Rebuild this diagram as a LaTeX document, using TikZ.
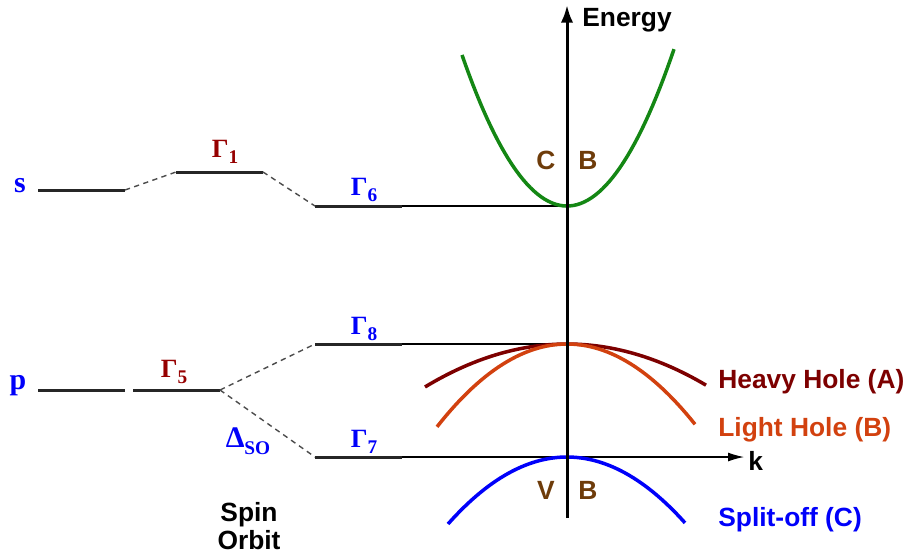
\documentclass[tikz,border=0pt]{standalone}
\usepackage{fontspec}
\setmainfont{Liberation Serif}
\setsansfont{Liberation Sans}
\usepackage{xcolor}
\usetikzlibrary{arrows.meta,positioning}

\definecolor{gdarkred}{RGB}{150,0,0}
\definecolor{hhred}{RGB}{125,0,0}
\definecolor{lhorange}{RGB}{210,65,15}
\definecolor{cbgreen}{RGB}{20,135,20}
\definecolor{cbbrown}{RGB}{110,60,10}
\definecolor{lblblue}{RGB}{0,0,250}

\newcommand{\glab}[1]{\textbf{Γ}\raisebox{-0.5ex}{\fontsize{11}{11}\selectfont\bfseries #1}}

\begin{document}
\begin{tikzpicture}[
    x=0.02cm, y=-0.02cm,
    level/.style={line width=1.7pt, black!85},
    guide/.style={line width=0.6pt, black},
    split/.style={dashed, line width=0.8pt, black!70, dash pattern=on 3pt off 2.5pt},
    axis/.style={line width=1.7pt, black},
    band/.style={line width=2pt},
    greek/.style={font=\fontsize{15}{17}\selectfont\bfseries},
    bandlab/.style={font=\fontsize{15}{18}\selectfont\sffamily\bfseries, inner sep=0pt}
]
\useasboundingbox (0,0) rectangle (908,556);

% Level end points
\coordinate (sL) at (38,190);   \coordinate (sR) at (125,190);
\coordinate (g1L) at (176,172); \coordinate (g1R) at (263,172);
\coordinate (g6L) at (315,206); \coordinate (g6R) at (402,206);
\coordinate (pL) at (38,390);   \coordinate (pR) at (125,390);
\coordinate (g5L) at (133,390); \coordinate (g5R) at (220,390);
\coordinate (g8L) at (315,344); \coordinate (g8R) at (402,344);
\coordinate (g7L) at (315,457); \coordinate (g7R) at (402,457);
\coordinate (cbMin) at (567,206);
\coordinate (vbMax) at (567,344);
\coordinate (soMax) at (567,457);
\coordinate (kEnd) at (744,457);
\coordinate (eBot) at (567,518);
\coordinate (eTop) at (567,5);

% Levels
\draw[level] (sL) -- (sR);
\draw[level] (g1L) -- (g1R);
\draw[level] (g6L) -- (g6R);
\draw[level] (pL) -- (pR);
\draw[level] (g5L) -- (g5R);
\draw[level] (g8L) -- (g8R);
\draw[level] (g7L) -- (g7R);

% Splitting
\draw[split] (sR) -- (g1L);
\draw[split] (g1R) -- (g6L);
\draw[split] (g5R) -- (g8L);
\draw[split] (g5R) -- (g7L);

% Guides to the band edges
\draw[guide] (g6R) -- (cbMin);
\draw[guide] (g8R) -- (vbMax);
\draw[guide, -{Latex[length=9pt, width=5pt]}] (g7R) -- (kEnd);

% Bands (curvature per 10 px squared)
\draw[band, cbgreen] plot[domain=-105:107, samples=60] ({567+\x},{206-1.37*(\x/10)*(\x/10)});
\draw[band, hhred] plot[domain=-142:139, samples=60] ({567+\x},{344+0.213*(\x/10)*(\x/10)});
\draw[band, lhorange] plot[domain=-130:128, samples=60] ({567+\x},{344+0.49*(\x/10)*(\x/10)});
\draw[band, lblblue] plot[domain=-119:118, samples=60] ({567+\x},{457+0.473*(\x/10)*(\x/10)});

% Energy axis
\draw[axis, -{Latex[length=10pt, width=7pt]}] (eBot) -- (eTop);

% Labels
\node[greek, text=lblblue, font=\fontsize{17}{19}\selectfont\bfseries] (slab) at (20,186) {s};
\node[greek, text=lblblue, font=\fontsize{17}{19}\selectfont\bfseries] (plab) at (18,386) {p};
\node[greek, text=gdarkred] (g1lab) at (225,152) {\glab{1}};
\node[greek, text=lblblue] (g6lab) at (364,190) {\glab{6}};
\node[greek, text=gdarkred] (g5lab) at (174,372) {\glab{5}};
\node[greek, text=lblblue] (g8lab) at (364,329) {\glab{8}};
\node[greek, text=lblblue] (g7lab) at (364,442) {\glab{7}};
\node[greek, text=lblblue, font=\fontsize{17}{19}\selectfont\bfseries] (dso) at (248,441)
    {Δ\raisebox{-0.5ex}{\fontsize{11}{11}\selectfont\bfseries SO}};
\node[bandlab, align=center, font=\fontsize{15}{16}\selectfont\sffamily\bfseries] (spin) at (249,526) {Spin\\Orbit};

\node[bandlab, anchor=west] (energy) at (582,20) {Energy};
\node[bandlab, anchor=west] (klab) at (748,461) {k};
\node[bandlab, text=cbbrown] (cbC) at (546,160) {C};
\node[bandlab, text=cbbrown] (cbB) at (588,160) {B};
\node[bandlab, text=cbbrown] (vbV) at (546,490) {V};
\node[bandlab, text=cbbrown] (vbB) at (588,490) {B};

\node[bandlab, anchor=west, text=hhred] (hh) at (718,382) {Heavy Hole (A)};
\node[bandlab, anchor=west, text=lhorange] (lh) at (718,430) {Light Hole (B)};
\node[bandlab, anchor=west, text=lblblue] (so) at (718,520) {Split-off (C)};

\end{tikzpicture}
\end{document}
